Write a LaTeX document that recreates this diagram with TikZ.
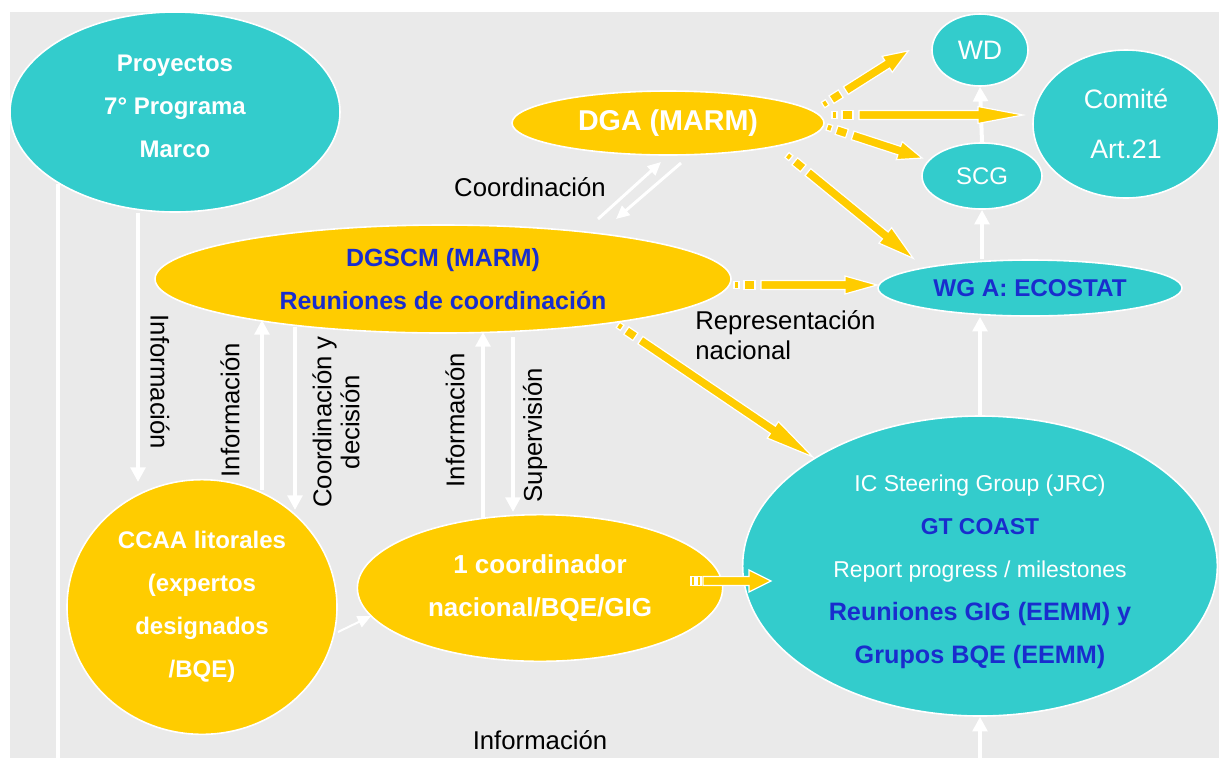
\documentclass[tikz,border=0pt]{standalone}
\usepackage{fontspec}
\setmainfont{Liberation Sans}
\usetikzlibrary{arrows.meta,calc,shapes.geometric}
\definecolor{tealc}{RGB}{51,204,204}
\definecolor{yelc}{RGB}{255,204,0}
\definecolor{bgc}{RGB}{234,234,234}
\definecolor{bluet}{RGB}{25,45,205}
\newcommand{\bfl}{\fontsize{18}{32.25}\selectfont\bfseries}
\newcommand{\rgl}{\fontsize{17.2}{32.25}\selectfont}
\newcommand{\lblf}{\fontsize{19.3}{22.5}\selectfont}
\tikzset{
  ell/.style={ellipse, draw=white, line width=1.2pt, inner sep=0pt, align=center},
  tealell/.style={ell, fill=tealc},
  yelell/.style={ell, fill=yelc},
  warr/.style={draw=white, line width=3pt, -{Triangle[width=11pt,length=11pt]}},
  wline/.style={draw=white, line width=3pt},
  lbl/.style={font=\lblf, text=black, inner sep=0pt},
  ystyle/.style={fill=yelc, draw=white, line width=0.9pt},
}
% striped block arrow: start coordinate, angle, length, head length, head half-width
\newcommand{\yarr}[5]{%
\begin{scope}[shift={(#1)}, rotate=#2]
\filldraw[ystyle] (0,-3.2) rectangle (5,3.2);
\filldraw[ystyle] (10,-4.5) rectangle (21,4.5);
\filldraw[ystyle] (27,-4.5) -- ({#3-#4},-4.5) -- ({#3-#4},-#5) -- (#3,0) -- ({#3-#4},#5) -- ({#3-#4},4.5) -- (27,4.5) -- cycle;
\end{scope}}
\begin{document}
\begin{tikzpicture}[x=0.75pt,y=-0.75pt]
\fill[white] (0,0) rectangle (1219,758);
\fill[bgc] (10,12) rectangle (1219,758);
\useasboundingbox (0,0) rectangle (1219,758);

% ---- nodes ----
\node[tealell, minimum width=247.5pt, minimum height=150pt] (proy) at (175,112) {};
\node[align=center, text=white, font=\bfl, inner sep=0pt] (proyt) at (175,106) {Proyectos\\7° Programa\\Marco};
\node[yelell, minimum width=234pt, minimum height=48pt, text=white, font=\fontsize{21.5}{26}\selectfont\bfseries] (dga) at (668,123) {DGA (MARM)};
\node[yelell, minimum width=432pt, minimum height=81pt, text=bluet, font=\fontsize{18.7}{32.25}\selectfont\bfseries] (dgscm) at (443,279) {DGSCM (MARM)\\Reuniones de coordinación};
\node[tealell, minimum width=72pt, minimum height=54pt, text=white, font=\fontsize{20}{24}\selectfont] (wd) at (980,50) {WD};
\node[tealell, minimum width=90pt, minimum height=49.5pt, text=white, font=\fontsize{18}{22}\selectfont] (scg) at (982,176) {SCG};
\node[tealell, minimum width=139.5pt, minimum height=111pt, text=white, font=\fontsize{20}{37.5}\selectfont] (comite) at (1126,124) {Comité\\Art.21};
\node[tealell, minimum width=228pt, minimum height=42pt, text=bluet, font=\fontsize{18.2}{21}\selectfont\bfseries] (wg) at (1030,288) {WG A: ECOSTAT};
\node[tealell, minimum width=356pt, minimum height=225pt] (ic) at (980,566) {};
\node[align=center, inner sep=0pt, font=\rgl] (ict) at (980,572)
  {\textcolor{white}{IC Steering Group (JRC)}\\
   \textcolor{bluet}{\bfseries GT COAST}\\
   \textcolor{white}{Report progress / milestones}\\
   \textcolor{bluet}{\fontsize{18.9}{32.25}\selectfont\bfseries Reuniones GIG (EEMM) y}\\
   \textcolor{bluet}{\fontsize{18.9}{32.25}\selectfont\bfseries Grupos BQE (EEMM)}};
\node[yelell, minimum width=202.5pt, minimum height=191pt, text=white, font=\bfl] (ccaa) at (202,607) {CCAA litorales\\(expertos\\designados\\/BQE)};
\node[yelell, minimum width=274pt, minimum height=110pt, text=white, font=\fontsize{19.5}{32.25}\selectfont\bfseries] (coord) at (540,588) {1 coordinador\\nacional/BQE/GIG};

% ---- labels ----
\node[lbl] (lcoord) at (530,187) {Coordinación};
\node[lbl, align=left, anchor=west] (lrep) at (695,335) {Representación\\nacional};
\node[lbl] (linfob) at (540,740) {Información};
\node[lbl, rotate=-90] (linfo1) at (160,382) {Información};
\node[lbl, rotate=90] (linfo2) at (230,410) {Información};
\node[lbl, rotate=90, align=center, font=\fontsize{19.3}{21}\selectfont] (lcyd) at (336,422) {Coordinación y\\decisión};
\node[lbl, rotate=90] (linfo3) at (455,420) {Información};
\node[lbl, rotate=90] (lsup) at (535,435) {Supervisión};

% ---- white connectors ----
\coordinate (b1) at (58,758);
\draw[wline] (proy.south -| b1) ++(0,-29) -- (b1);
\coordinate (a1) at (138,482);
\draw[warr] (proy.south -| a1) -- (a1);
\coordinate (a2s) at (262,490); \coordinate (a2e) at (262,320);
\draw[warr] (a2s) -- (a2e);
\coordinate (a3s) at (295,327); \coordinate (a3e) at (295,510);
\draw[warr] (a3s) -- (a3e);
\coordinate (a4s) at (483,518); \coordinate (a4e) at (483,332);
\draw[warr] (a4s) -- (a4e);
\coordinate (a5s) at (513,337); \coordinate (a5e) at (513,512);
\draw[warr] (a5s) -- (a5e);
\coordinate (a6s) at (338,632); \coordinate (a6e) at (371,616);
\draw[draw=white, line width=1.5pt, -{Triangle[width=9pt,length=10pt]}] (a6s) -- (a6e);
\coordinate (a7s) at (598,219); \coordinate (a7e) at (661,162);
\draw[draw=white, line width=2.2pt, -{Triangle[width=9pt,length=10pt]}] (a7s) -- (a7e);
\coordinate (a8s) at (681,163); \coordinate (a8e) at (616,219);
\draw[draw=white, line width=2.2pt, -{Triangle[width=9pt,length=10pt]}] (a8s) -- (a8e);
\draw[warr] (scg.north) -- (wd.south);
\draw[warr] (wg.north -| scg.south) -- (scg.south);
\draw[warr] (ic.north) -- (wg.south -| ic.north);
\coordinate (b2) at (980,758);
\draw[warr] (b2) -- (ic.south -| b2);

% ---- yellow striped arrows ----
\coordinate (ya) at (823,105);
\yarr{ya}{32.4}{101}{25}{9.5}
\coordinate (yb) at (832,115);
\yarr{yb}{0}{191}{45}{8.5}
\coordinate (yc) at (827,127);
\yarr{yc}{-18.1}{100}{24}{9.5}
\coordinate (yd) at (787,155);
\yarr{yd}{-39.3}{163}{36}{10}
\coordinate (ye) at (734,285);
\yarr{ye}{0}{143}{32}{9}
\coordinate (yf) at (618,325);
\yarr{yf}{-34.1}{235}{48}{10}
\coordinate (yg) at (691,581);
\begin{scope}[shift={(yg)}]
\filldraw[ystyle] (0,-4.5) rectangle (4,4.5);
\filldraw[ystyle] (6,-4.5) rectangle (10,4.5);
\filldraw[ystyle] (12,-4.5) -- (58,-4.5) -- (58,-11) -- (80,0) -- (58,11) -- (58,4.5) -- (12,4.5) -- cycle;
\end{scope}
\end{tikzpicture}
\end{document}
